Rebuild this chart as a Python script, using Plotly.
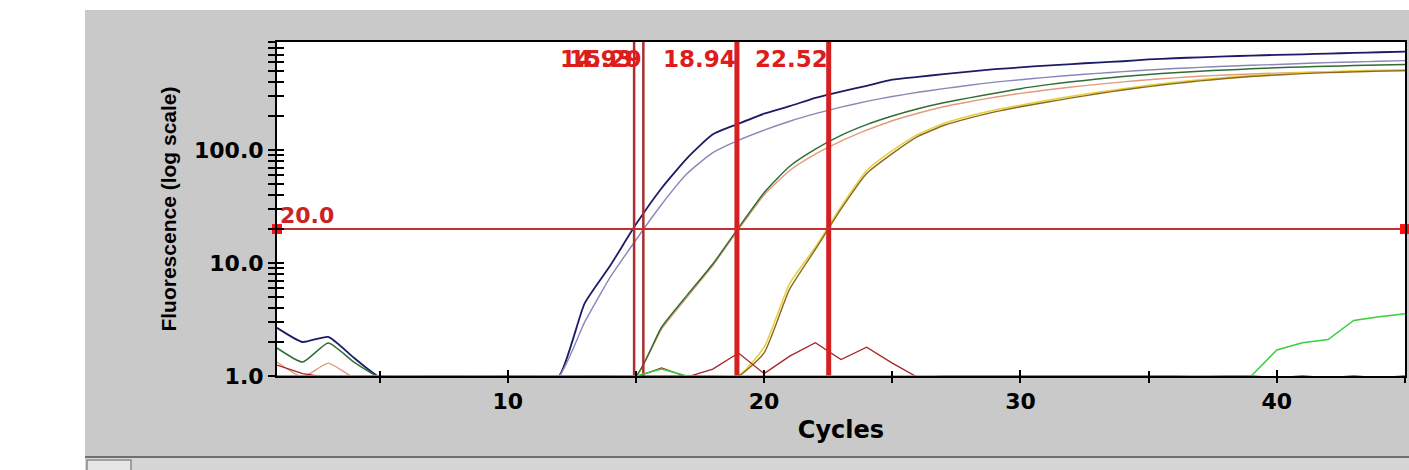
import math
import plotly.graph_objects as go

# ---------------- data ----------------
cycles = list(range(1, 46))

navy = [2.67, 2.0, 2.22, 1.45, 0.98, 1.0, 0.98, 1.0, 1.0, 0.97, 0.96, 1.0, 4.4, 9.5, 22,
        46, 85, 138, 171, 210, 245, 290, 330, 370, 420, 445, 470, 495, 520, 540,
        560, 578, 596, 612, 635, 650, 663, 675, 686, 697, 705, 715, 725, 735, 745]
lavender = [1.0, 1.0, 1.0, 1.0, 1.0, 1.0, 1.0, 1.0, 1.0, 0.98, 0.97, 1.0, 3.0, 7.5, 16,
            33, 62, 95, 122, 150, 180, 210, 240, 270, 298, 325, 350, 375, 400, 420,
            440, 460, 478, 495, 512, 527, 540, 552, 563, 573, 585, 595, 603, 612, 620]
dkgreen = [1.77, 1.33, 1.96, 1.33, 0.98, 1.0, 1.0, 0.99, 1.0, 1.0, 1.0, 1.0, 1.0, 1.0, 1.0,
           2.7, 5.2, 9.8, 20.5, 42, 72, 102, 135, 168, 200, 232, 262, 290, 318, 350,
           378, 402, 425, 448, 468, 485, 500, 512, 524, 535, 545, 553, 560, 566, 572]
salmon = [1.33, 0.98, 1.3, 0.97, 1.0, 1.0, 1.0, 1.0, 1.0, 1.0, 1.0, 1.0, 1.0, 1.0, 1.0,
          2.6, 5.0, 9.5, 19.8, 40, 66, 92, 120, 150, 182, 212, 242, 268, 294, 318,
          340, 362, 382, 402, 420, 436, 450, 462, 472, 480, 487, 492, 497, 501, 505]
olive = [1.0, 1.0, 1.0, 1.0, 1.0, 1.0, 1.0, 1.0, 1.0, 1.0, 0.98, 0.97, 0.98, 1.0, 1.0,
         1.0, 1.0, 1.0, 1.0, 1.6, 5.9, 13.2, 30, 62, 93, 132, 165, 192, 218, 242,
         265, 290, 315, 340, 365, 388, 410, 430, 448, 462, 475, 485, 493, 500, 505]
yellow = [1.0, 1.0, 1.0, 1.0, 1.0, 1.0, 1.0, 1.0, 1.0, 1.0, 1.0, 0.98, 0.97, 1.0, 1.0,
          1.0, 1.0, 1.0, 1.0, 1.8, 6.6, 13.8, 31.5, 66, 99, 138, 172, 200, 226, 250,
          275, 300, 325, 350, 375, 398, 420, 440, 458, 472, 485, 495, 503, 510, 515]
rednoise = [1.25, 1.05, 0.97, 0.98, 1.0, 0.98, 1.0, 1.0, 0.98, 1.0, 1.0, 0.98, 1.0, 1.0, 0.98,
            1.18, 0.98, 1.15, 1.6, 1.05, 1.5, 1.97, 1.4, 1.8, 1.3, 0.97, 1.0, 1.0, 1.0, 1.0,
            1.0, 1.0, 1.0, 1.0, 1.0, 1.0, 0.98, 1.0, 1.0, 0.97, 1.0, 0.97, 1.0, 0.97, 1.0]
brightgreen = [1.0, 1.0, 1.0, 1.0, 1.0, 1.0, 1.0, 1.0, 1.0, 1.0, 1.0, 1.0, 1.0, 1.0, 1.0,
               1.15, 1.0, 1.0, 1.0, 1.0, 1.0, 1.0, 1.0, 1.0, 1.0, 1.0, 1.0, 1.0, 1.0, 1.0,
               1.0, 1.0, 1.0, 1.0, 1.0, 1.0, 1.0, 1.0, 1.0, 1.7, 1.97, 2.1, 3.1, 3.35, 3.55]

threshold = 20.0
threshold_label = "20.0"
ct_values = [14.93, 15.29, 18.94, 22.52]
ct_labels = ["14.93", "15.29", "18.94", "22.52"]
ct_thick = [False, False, True, True]

x_range = [1, 45]
y_log_range = [0, 2.957]
y_tickvals = [1, 10, 100]
y_ticktext = ["1.0", "10.0", "100.0"]
x_tickvals = [10, 20, 30, 40]
x_ticktext = ["10", "20", "30", "40"]

series = [
    (navy, "#1c1c66", 1.8, "spline"),
    (lavender, "#8c86b8", 1.4, "spline"),
    (salmon, "#e29a7c", 1.4, "spline"),
    (dkgreen, "#2f6e32", 1.5, "spline"),
    (yellow, "#e6cf3e", 1.5, "spline"),
    (olive, "#8a6a1a", 1.4, "spline"),
    (rednoise, "#a82424", 1.3, "linear"),
]

# ---------------- figure ----------------
W, H = 1409, 470
L, R, T, B = 277, 1405, 42, 376

def px_x(p):
    return (p - L) / (R - L)

def px_y(p):
    return (B - p) / (B - T)

fig = go.Figure()

for ys, col, w, shp in series:
    fig.add_trace(go.Scatter(x=cycles, y=ys, mode="lines",
                             line=dict(color=col, width=w, shape=shp, smoothing=0.5),
                             showlegend=False, hoverinfo="skip"))

fig.add_trace(go.Scatter(x=cycles, y=brightgreen, mode="lines",
                         line=dict(color="#3ccf3c", width=1.5),
                         xaxis="x2", yaxis="y2",
                         showlegend=False, hoverinfo="skip"))

y_top = 10 ** y_log_range[1]
y_bot = 10 ** y_log_range[0]
for ct, thick in zip(ct_values, ct_thick):
    fig.add_trace(go.Scatter(x=[ct, ct], y=[y_bot, y_top], mode="lines",
                             line=dict(color="#d42020" if thick else "#a83030",
                                       width=5 if thick else 2.5),
                             showlegend=False, hoverinfo="skip"))

fig.add_trace(go.Scatter(x=[x_range[0], x_range[1]], y=[threshold, threshold],
                         mode="lines+markers",
                         line=dict(color="#c43030", width=2),
                         marker=dict(symbol="square", size=10, color="#ff1010"),
                         cliponaxis=False, showlegend=False, hoverinfo="skip"))

bold = dict(family="DejaVu Sans", weight="bold", color="black")

annotations = []
for ct, lab in zip(ct_values, ct_labels):
    annotations.append(dict(x=ct, y=1, xref="x", yref="paper", text=lab,
                            showarrow=False, xanchor="right", yanchor="top",
                            yshift=-2, xshift=1,
                            font=dict(family="DejaVu Sans", weight="bold",
                                      size=23, color="#dd1c1c")))
annotations.append(dict(x=x_range[0], y=math.log10(threshold), xref="x", yref="y",
                        text=threshold_label, showarrow=False,
                        xanchor="left", yanchor="bottom", xshift=1, yshift=-1,
                        font=dict(family="DejaVu Sans", weight="bold",
                                  size=22, color="#cc2222")))

minor_y = [m * d for d in (1, 10, 100) for m in range(2, 10)]

shapes = [
    # white margins left and top
    dict(type="rect", xref="paper", yref="paper", x0=px_x(0), x1=px_x(85),
         y0=px_y(H), y1=px_y(0), fillcolor="white", line=dict(width=0), layer="above"),
    dict(type="rect", xref="paper", yref="paper", x0=px_x(0), x1=px_x(W),
         y0=px_y(10), y1=px_y(0), fillcolor="white", line=dict(width=0), layer="above"),
    # bottom strip
    dict(type="rect", xref="paper", yref="paper", x0=px_x(85), x1=px_x(W),
         y0=px_y(H), y1=px_y(457), fillcolor="#d6d6d6", line=dict(width=0), layer="above"),
    dict(type="line", xref="paper", yref="paper", x0=px_x(85), x1=px_x(W),
         y0=px_y(457), y1=px_y(457), line=dict(color="#6e6e6e", width=2), layer="above"),
    dict(type="rect", xref="paper", yref="paper", x0=px_x(87), x1=px_x(131),
         y0=px_y(H + 2), y1=px_y(460), fillcolor="#e6e6e6",
         line=dict(color="#8a8a8a", width=1.5), layer="above"),
]

fig.update_layout(
    width=W, height=H,
    margin=dict(l=L, r=W - R, t=T, b=H - B, autoexpand=False),
    paper_bgcolor="#c9c9c9",
    plot_bgcolor="white",
    showlegend=False,
    annotations=annotations,
    shapes=shapes,
    xaxis=dict(range=x_range, showgrid=False, zeroline=False,
               showline=True, linecolor="black", linewidth=2, mirror=True,
               tickmode="array", tickvals=x_tickvals, ticktext=x_ticktext,
               ticks="outside", ticklen=5, tickwidth=2, tickcolor="black",
               minor=dict(dtick=5, tick0=0, ticks="outside", ticklen=5,
                          tickwidth=2, tickcolor="black"),
               tickfont=dict(size=22, **bold),
               title=dict(text="Cycles", font=dict(size=24, **bold), standoff=8)),
    yaxis=dict(type="log", range=y_log_range, showgrid=False, zeroline=False,
               showline=True, linecolor="black", linewidth=2, mirror=True,
               tickmode="array", tickvals=y_tickvals, ticktext=y_ticktext,
               ticks="outside", ticklen=7, tickwidth=2, tickcolor="black",
               minor=dict(tickmode="array", tickvals=minor_y, ticks="outside",
                          ticklen=7, tickwidth=1.5, tickcolor="black"),
               tickfont=dict(size=22, **bold),
               title=dict(text="Fluorescence (log scale)",
                          font=dict(family="Liberation Sans", weight="bold",
                                    size=21, color="black"), standoff=12)),
    xaxis2=dict(range=x_range, overlaying="x", anchor="y", side="bottom",
                showgrid=False, zeroline=False, showline=False,
                tickmode="array", tickvals=x_tickvals, showticklabels=False,
                ticks="inside", ticklen=6, tickwidth=2, tickcolor="black",
                minor=dict(dtick=5, tick0=0, ticks="inside", ticklen=5,
                           tickwidth=2, tickcolor="black")),
    yaxis2=dict(type="log", range=y_log_range, overlaying="y", anchor="x", side="left",
                showgrid=False, zeroline=False, showline=False,
                tickmode="array", tickvals=y_tickvals, showticklabels=False,
                ticks="inside", ticklen=7, tickwidth=2, tickcolor="black",
                minor=dict(tickmode="array", tickvals=minor_y, ticks="inside",
                           ticklen=7, tickwidth=1.5, tickcolor="black")),
)

fig.write_html("out.html", config={"displayModeBar": False},
               post_script="document.body.style.margin='0';document.body.style.overflow='hidden';")
